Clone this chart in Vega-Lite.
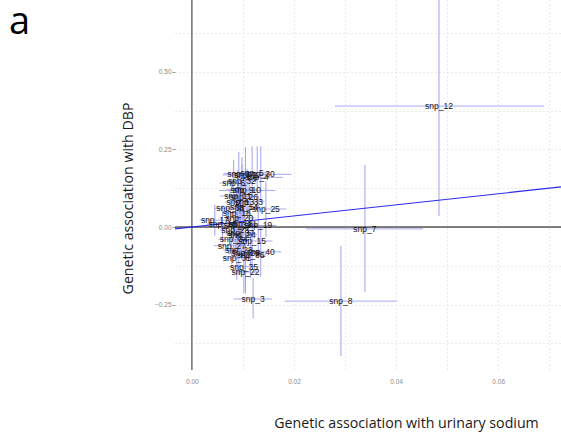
{
  "$schema": "https://vega.github.io/schema/vega-lite/v6.json",
  "autosize": {"type": "none"},
  "width": 386,
  "height": 370,
  "padding": {"left": 175, "top": 0, "right": 0, "bottom": 64},
  "background": "white",
  "title": {"text": "a", "orient": "left", "anchor": "end", "angle": 0, "align": "left", "frame": "group", "font": "Open Sans", "fontSize": 38, "fontWeight": "normal", "color": "#000", "baseline": "alphabetic", "offset": 91, "dy": 34},
  "config": {"view": {"stroke": null}},
  "datasets": {
    "snps": [
      {"snp": "snp_1", "bx": 0.0092, "xlo": 0.0062, "xhi": 0.0122, "by": 0.172, "ylo": 0.102, "yhi": 0.242},
      {"snp": "snp_2", "bx": 0.0105, "xlo": 0.0060, "xhi": 0.0150, "by": 0.168, "ylo": 0.078, "yhi": 0.258},
      {"snp": "snp_3", "bx": 0.0120, "xlo": 0.0082, "xhi": 0.0157, "by": -0.232, "ylo": -0.294, "yhi": -0.165},
      {"snp": "snp_4", "bx": 0.0128, "xlo": 0.0078, "xhi": 0.0178, "by": 0.160, "ylo": 0.060, "yhi": 0.260},
      {"snp": "snp_5", "bx": 0.0118, "xlo": 0.0083, "xhi": 0.0153, "by": 0.175, "ylo": 0.090, "yhi": 0.260},
      {"snp": "snp_6", "bx": 0.0082, "xlo": 0.0054, "xhi": 0.0110, "by": 0.142, "ylo": 0.067, "yhi": 0.217},
      {"snp": "snp_7", "bx": 0.0339, "xlo": 0.0224, "xhi": 0.0453, "by": -0.006, "ylo": -0.210, "yhi": 0.200},
      {"snp": "snp_8", "bx": 0.0292, "xlo": 0.0182, "xhi": 0.0402, "by": -0.239, "ylo": -0.416, "yhi": -0.061},
      {"snp": "snp_9", "bx": 0.0098, "xlo": 0.0068, "xhi": 0.0128, "by": 0.120, "ylo": 0.040, "yhi": 0.200},
      {"snp": "snp_10", "bx": 0.0108, "xlo": 0.0053, "xhi": 0.0163, "by": 0.118, "ylo": 0.048, "yhi": 0.188},
      {"snp": "snp_11", "bx": 0.0090, "xlo": 0.0055, "xhi": 0.0125, "by": 0.100, "ylo": 0.015, "yhi": 0.185},
      {"snp": "snp_12", "bx": 0.0484, "xlo": 0.0280, "xhi": 0.0690, "by": 0.390, "ylo": 0.035, "yhi": 0.745},
      {"snp": "snp_13", "bx": 0.0095, "xlo": 0.0065, "xhi": 0.0125, "by": 0.080, "ylo": -0.010, "yhi": 0.170},
      {"snp": "snp_14", "bx": 0.0102, "xlo": 0.0070, "xhi": 0.0134, "by": 0.065, "ylo": -0.005, "yhi": 0.135},
      {"snp": "snp_15", "bx": 0.0118, "xlo": 0.0078, "xhi": 0.0158, "by": -0.045, "ylo": -0.125, "yhi": 0.035},
      {"snp": "snp_16", "bx": 0.0060, "xlo": 0.0030, "xhi": 0.0090, "by": 0.010, "ylo": -0.050, "yhi": 0.070},
      {"snp": "snp_17", "bx": 0.0045, "xlo": 0.0015, "xhi": 0.0075, "by": 0.022, "ylo": -0.028, "yhi": 0.072},
      {"snp": "snp_18", "bx": 0.0088, "xlo": 0.0060, "xhi": 0.0116, "by": 0.045, "ylo": -0.030, "yhi": 0.120},
      {"snp": "snp_19", "bx": 0.0130, "xlo": 0.0095, "xhi": 0.0165, "by": 0.005, "ylo": -0.090, "yhi": 0.100},
      {"snp": "snp_20", "bx": 0.0093, "xlo": 0.0063, "xhi": 0.0123, "by": 0.030, "ylo": -0.050, "yhi": 0.110},
      {"snp": "snp_21", "bx": 0.0100, "xlo": 0.0070, "xhi": 0.0130, "by": 0.010, "ylo": -0.060, "yhi": 0.080},
      {"snp": "snp_22", "bx": 0.0105, "xlo": 0.0080, "xhi": 0.0130, "by": -0.145, "ylo": -0.215, "yhi": -0.075},
      {"snp": "snp_23", "bx": 0.0085, "xlo": 0.0055, "xhi": 0.0115, "by": -0.010, "ylo": -0.080, "yhi": 0.060},
      {"snp": "snp_24", "bx": 0.0098, "xlo": 0.0068, "xhi": 0.0128, "by": -0.025, "ylo": -0.100, "yhi": 0.050},
      {"snp": "snp_25", "bx": 0.0145, "xlo": 0.0105, "xhi": 0.0185, "by": 0.058, "ylo": -0.032, "yhi": 0.148},
      {"snp": "snp_26", "bx": 0.0102, "xlo": 0.0072, "xhi": 0.0132, "by": 0.098, "ylo": 0.023, "yhi": 0.173},
      {"snp": "snp_27", "bx": 0.0078, "xlo": 0.0043, "xhi": 0.0113, "by": -0.060, "ylo": -0.120, "yhi": 0.000},
      {"snp": "snp_28", "bx": 0.0092, "xlo": 0.0062, "xhi": 0.0122, "by": -0.075, "ylo": -0.155, "yhi": 0.005},
      {"snp": "snp_29", "bx": 0.0105, "xlo": 0.0070, "xhi": 0.0140, "by": -0.085, "ylo": -0.170, "yhi": 0.000},
      {"snp": "snp_30", "bx": 0.0135, "xlo": 0.0075, "xhi": 0.0195, "by": 0.170, "ylo": 0.080, "yhi": 0.260},
      {"snp": "snp_31", "bx": 0.0088, "xlo": 0.0060, "xhi": 0.0116, "by": -0.100, "ylo": -0.170, "yhi": -0.030},
      {"snp": "snp_32", "bx": 0.0098, "xlo": 0.0068, "xhi": 0.0128, "by": 0.150, "ylo": 0.075, "yhi": 0.225},
      {"snp": "snp_33", "bx": 0.0112, "xlo": 0.0082, "xhi": 0.0142, "by": 0.082, "ylo": 0.007, "yhi": 0.157},
      {"snp": "snp_34", "bx": 0.0082, "xlo": 0.0052, "xhi": 0.0112, "by": -0.040, "ylo": -0.100, "yhi": 0.020},
      {"snp": "snp_35", "bx": 0.0102, "xlo": 0.0072, "xhi": 0.0132, "by": -0.128, "ylo": -0.213, "yhi": -0.043},
      {"snp": "snp_36", "bx": 0.0115, "xlo": 0.0085, "xhi": 0.0145, "by": -0.090, "ylo": -0.165, "yhi": -0.015},
      {"snp": "snp_37", "bx": 0.0095, "xlo": 0.0065, "xhi": 0.0125, "by": -0.020, "ylo": -0.085, "yhi": 0.045},
      {"snp": "snp_38", "bx": 0.0075, "xlo": 0.0045, "xhi": 0.0105, "by": 0.060, "ylo": 0.000, "yhi": 0.120},
      {"snp": "snp_39", "bx": 0.0090, "xlo": 0.0060, "xhi": 0.0120, "by": 0.005, "ylo": -0.060, "yhi": 0.070},
      {"snp": "snp_40", "bx": 0.0135, "xlo": 0.0095, "xhi": 0.0175, "by": -0.080, "ylo": -0.160, "yhi": 0.000}
    ],
    "fit": [
      {"lx": -0.0033, "ly": -0.0059},
      {"lx": 0.0723, "ly": 0.1294}
    ]
  },
  "layer": [
    {
      "data": {"name": "snps"},
      "mark": {"type": "rule", "color": "#a8a8f4", "strokeWidth": 1, "clip": true},
      "encoding": {
        "x": {"field": "xlo", "type": "quantitative",
          "scale": {"domain": [-0.0033, 0.0723], "nice": false, "zero": false},
          "axis": {
            "values": [0, 0.01, 0.02, 0.03, 0.04, 0.05, 0.06, 0.07],
            "labelExpr": "round(datum.value*100) % 2 == 0 ? format(datum.value, '.2f') : ''",
            "grid": true, "gridDash": [1, 3], "gridColor": "#d6d6d6", "gridWidth": 1,
            "domain": false, "ticks": false,
            "labelFont": "Liberation Sans", "labelFontSize": 6.5, "labelColor": "#8a8a8a", "labelPadding": 8,
            "title": "Genetic association with urinary sodium",
            "titleFont": "Open Sans", "titleFontSize": 14.2, "titleFontWeight": "normal", "titleColor": "#1a1a1a",
            "titleX": 231, "titleY": 53, "titleAlign": "center", "titleBaseline": "middle"
          }
        },
        "x2": {"field": "xhi"},
        "y": {"field": "by", "type": "quantitative",
          "scale": {"domain": [-0.461, 0.732], "nice": false, "zero": false},
          "axis": {
            "values": [-0.375, -0.25, -0.125, 0, 0.125, 0.25, 0.375, 0.5, 0.625],
            "labelExpr": "round(datum.value*8) % 2 == 0 ? format(datum.value, '.2f') : ''",
            "grid": true, "gridDash": [1, 3], "gridColor": "#d6d6d6", "gridWidth": 1,
            "domain": false, "ticks": true, "tickSize": 3, "tickColor": "#9a9a9a",
            "tickOpacity": {"condition": {"test": "round(datum.value*8) % 2 == 0", "value": 1}, "value": 0},
            "labelFont": "Liberation Sans", "labelFontSize": 6.5, "labelColor": "#8a8a8a", "labelPadding": 1,
            "title": "Genetic association with DBP",
            "titleFont": "Open Sans", "titleFontSize": 14.2, "titleFontWeight": "normal", "titleColor": "#1a1a1a",
            "titleX": -47, "titleY": 198, "titleAlign": "center", "titleBaseline": "middle", "titleAngle": 270
          }
        }
      }
    },
    {
      "data": {"name": "snps"},
      "mark": {"type": "rule", "color": "#a0a0f2", "strokeWidth": 1, "clip": true},
      "encoding": {
        "x": {"field": "bx", "type": "quantitative"},
        "y": {"field": "ylo", "type": "quantitative"},
        "y2": {"field": "yhi"}
      }
    },
    {
      "data": {"values": [{"v": 0}]},
      "mark": {"type": "rule", "color": "#7a7a7a", "strokeWidth": 1.6},
      "encoding": {"x": {"field": "v", "type": "quantitative"}}
    },
    {
      "data": {"values": [{"v": 0}]},
      "mark": {"type": "rule", "color": "#000000", "strokeWidth": 1},
      "encoding": {"y": {"field": "v", "type": "quantitative"}}
    },
    {
      "data": {"name": "fit"},
      "mark": {"type": "line", "color": "#2b2bef", "strokeWidth": 1.1, "clip": true},
      "encoding": {
        "x": {"field": "lx", "type": "quantitative"},
        "y": {"field": "ly", "type": "quantitative"}
      }
    },
    {
      "data": {"name": "snps"},
      "mark": {"type": "text", "font": "Liberation Sans", "fontSize": 8.5, "color": "#111111", "align": "center", "baseline": "middle", "clip": true},
      "encoding": {
        "x": {"field": "bx", "type": "quantitative"},
        "y": {"field": "by", "type": "quantitative"},
        "text": {"field": "snp"}
      }
    }
  ]
}
